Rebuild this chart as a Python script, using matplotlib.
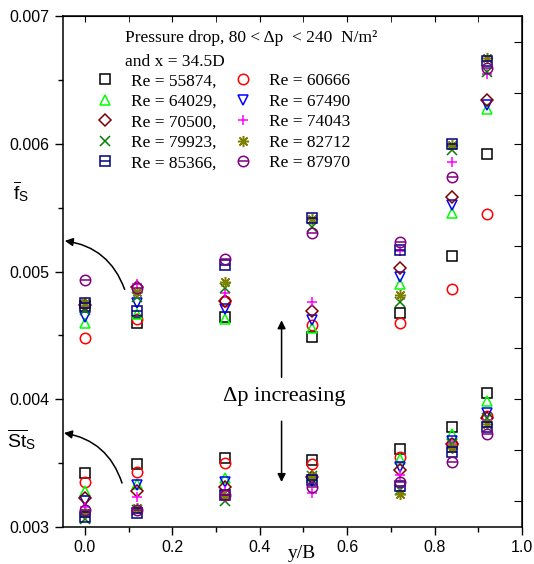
import numpy as np
import matplotlib.pyplot as plt
from matplotlib.ticker import MultipleLocator, FormatStrFormatter
from matplotlib.legend_handler import HandlerTuple

plt.rcParams['font.family'] = 'Liberation Sans'
plt.rcParams['mathtext.fontset'] = 'custom'
plt.rcParams['mathtext.rm'] = 'Liberation Sans'
plt.rcParams['mathtext.it'] = 'Liberation Sans:italic'

# Data
y_over_b = [0.0, 0.12, 0.32, 0.52, 0.72, 0.84, 0.92]
reynolds = [55874, 60666, 64029, 67490, 70500, 74043, 79923, 82712, 85366, 87970]

# friction factor f_s (upper group)
f_55874 = [0.00473, 0.00460, 0.00464, 0.00449, 0.004675, 0.00512, 0.00592]
f_60666 = [0.00448, 0.00463, 0.00477, 0.00458, 0.00460, 0.00486, 0.00545]
f_64029 = [0.00460, 0.00467, 0.00463, 0.00456, 0.00490, 0.00546, 0.00627]
f_67490 = [0.00464, 0.00475, 0.00471, 0.00462, 0.00496, 0.00552, 0.00630]
f_70500 = [0.00474, 0.00488, 0.00477, 0.00469, 0.00503, 0.00558, 0.00634]
f_74043 = [0.00472, 0.00490, 0.00483, 0.00476, 0.00516, 0.00586, 0.00655]
f_79923 = [0.00470, 0.00480, 0.00487, 0.00535, 0.00476, 0.00595, 0.00656]
f_82712 = [0.00475, 0.00484, 0.00492, 0.00541, 0.00482, 0.00599, 0.00667]
f_85366 = [0.00475, 0.00469, 0.00505, 0.00542, 0.00517, 0.00600, 0.00665]
f_87970 = [0.00493, 0.00487, 0.00510, 0.00530, 0.00523, 0.00574, 0.00659]

# Stanton number St_s (lower group)
st_55874 = [0.003423, 0.00349, 0.00354, 0.003525, 0.00361, 0.00378, 0.00405]
st_60666 = [0.00335, 0.00343, 0.00350, 0.00349, 0.00355, 0.00365, 0.00387]
st_64029 = [0.00328, 0.00334, 0.00338, 0.00339, 0.00353, 0.00373, 0.00399]
st_67490 = [0.00320, 0.00333, 0.00335, 0.00336, 0.00347, 0.00367, 0.00389]
st_70500 = [0.00323, 0.00328, 0.00331, 0.00339, 0.00345, 0.00365, 0.00385]
st_74043 = [0.00316, 0.003235, 0.00328, 0.00327, 0.00341, 0.00365, 0.00384]
st_79923 = [0.00306, 0.00313, 0.00320, 0.00340, 0.00329, 0.00365, 0.00385]
st_82712 = [0.00311, 0.00315, 0.00324, 0.00340, 0.00326, 0.00362, 0.00381]
st_85366 = [0.00308, 0.00311, 0.00325, 0.00337, 0.00332, 0.00359, 0.00378]
st_87970 = [0.00313, 0.00313, 0.00325, 0.00331, 0.00335, 0.00351, 0.00373]

f_all = [f_55874, f_60666, f_64029, f_67490, f_70500,
         f_74043, f_79923, f_82712, f_85366, f_87970]
st_all = [st_55874, st_60666, st_64029, st_67490, st_70500,
          st_74043, st_79923, st_82712, st_85366, st_87970]

# marker styles (second marker is overlaid, e.g. the bar inside square/circle)
markers = ['s', 'o', '^', 'v', 'D', '+', 'x', (8, 2, 0), 's', 'o']
overlay = [None, None, None, None, None, None, None, None, '_', '_']
sizes = [6.5, 7.5, 7.5, 7.5, 6, 7.5, 7.5, 8, 6.5, 7.5]
colors = ['black', '#ff0000', '#00ff00', '#0000ff', '#800000',
          '#ff00ff', '#008000', '#808000', '#000080', '#800080']

fig = plt.figure(figsize=(5.34, 5.64), dpi=100)
ax = fig.add_axes([0.118, 0.0656, 0.8595, 0.906])

handles = []
for f, st, mk, ov, ms, col in zip(f_all, st_all, markers, overlay, sizes, colors):
    xs = y_over_b + y_over_b
    ys = f + st
    h, = ax.plot(xs, ys, ls='none', marker=mk, ms=ms, mfc='none', mec=col,
                 mew=1.1)
    if ov is not None:
        h2, = ax.plot(xs, ys, ls='none', marker=ov, ms=ms, mec=col, mew=1.1)
        handles.append((h, h2))
    else:
        handles.append(h)

ax.set_xlim(-0.05, 1.0)
ax.set_ylim(0.003, 0.007)
ax.xaxis.set_major_locator(MultipleLocator(0.2))
ax.xaxis.set_minor_locator(MultipleLocator(0.1))
ax.xaxis.set_major_formatter(FormatStrFormatter('%.1f'))
ax.yaxis.set_major_locator(MultipleLocator(0.001))
ax.yaxis.set_minor_locator(MultipleLocator(0.0005))
ax.yaxis.set_major_formatter(FormatStrFormatter('%.3f'))
ax.tick_params(which='both', direction='out', labelsize=11.5, width=1)
ax.tick_params(which='major', length=6)
ax.tick_params(which='minor', length=3.5)
for sp in ax.spines.values():
    sp.set_linewidth(1.1)

top = ax.secondary_xaxis('top')
top.xaxis.set_major_locator(MultipleLocator(0.2))
top.xaxis.set_minor_locator(MultipleLocator(0.1))
top.tick_params(which='both', direction='in', labeltop=False, length=4)
right = ax.secondary_yaxis('right')
right.yaxis.set_major_locator(MultipleLocator(0.0004))
right.tick_params(which='both', direction='in', labelright=False, length=6)

ax.set_xlabel('y/B', family='Liberation Serif', fontsize=14)
ax.xaxis.set_label_coords(0.52, -0.035)

fig.text(0.039, 0.66, r'$\overline{\mathrm{f}}_{\mathrm{S}}$', fontsize=14,
         ha='center', va='center')
fig.text(0.041, 0.22, r'$\overline{\mathrm{St}}_{\mathrm{S}}$', fontsize=14,
         ha='center', va='center')

# legend: header text + two columns of entries
serif = 'Liberation Serif'
ax.text(0.135, 0.957, 'Pressure drop, 80 < Δp  < 240  N/m²', family=serif,
        fontsize=12.5, va='center', transform=ax.transAxes)
ax.text(0.135, 0.910, 'and x = 34.5D', family=serif, fontsize=12.5,
        va='center', transform=ax.transAxes)
order = [0, 2, 4, 6, 8, 1, 3, 5, 7, 9]
labels = []
for i in order:
    lab = 'Re = %d' % reynolds[i]
    if i % 2 == 0:
        lab += ','
    labels.append(lab)
ax.legend([handles[i] for i in order], labels, ncol=2, loc='upper left',
          bbox_to_anchor=(0.068, 0.888), frameon=False,
          prop={'family': serif, 'size': 12.5}, handlelength=1.2,
          handletextpad=0.9, columnspacing=0.95, labelspacing=0.25,
          borderaxespad=0, borderpad=0,
          handler_map={tuple: HandlerTuple(ndivide=1)})

# delta p increasing annotation
ax.text(0.457, 0.00402, 'Δp increasing', family=serif, fontsize=16,
        ha='center', va='center')
ax.annotate('', xy=(0.45, 0.00464), xytext=(0.45, 0.00415),
            arrowprops=dict(arrowstyle='-|>', color='black', lw=1.1,
                            mutation_scale=12))
ax.annotate('', xy=(0.45, 0.00333), xytext=(0.45, 0.00385),
            arrowprops=dict(arrowstyle='-|>', color='black', lw=1.1,
                            mutation_scale=12))

# curved arrows pointing at the axis labels
ax.annotate('', xy=(-0.046, 0.00524), xytext=(0.091, 0.00486),
            arrowprops=dict(arrowstyle='-|>', color='black', lw=1.1,
                            mutation_scale=12, shrinkA=0, shrinkB=0,
                            connectionstyle='arc3,rad=0.3'))
ax.annotate('', xy=(-0.048, 0.003736), xytext=(0.085, 0.003344),
            arrowprops=dict(arrowstyle='-|>', color='black', lw=1.1,
                            mutation_scale=12, shrinkA=0, shrinkB=0,
                            connectionstyle='arc3,rad=0.3'))

fig.savefig('out.png', dpi=100)
